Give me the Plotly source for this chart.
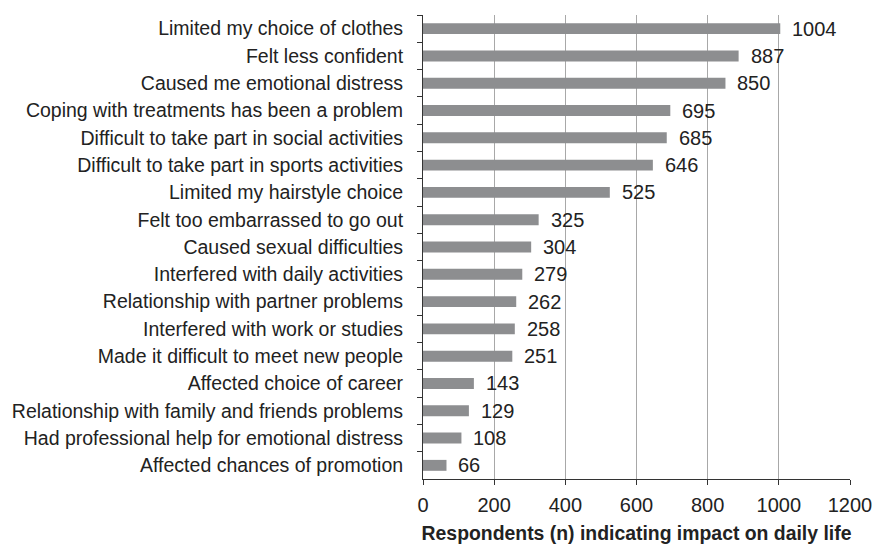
import plotly.graph_objects as go

categories = [
    "Limited my choice of clothes",
    "Felt less confident",
    "Caused me emotional distress",
    "Coping with treatments has been a problem",
    "Difficult to take part in social activities",
    "Difficult to take part in sports activities",
    "Limited my hairstyle choice",
    "Felt too embarrassed to go out",
    "Caused sexual difficulties",
    "Interfered with daily activities",
    "Relationship with partner problems",
    "Interfered with work or studies",
    "Made it difficult to meet new people",
    "Affected choice of career",
    "Relationship with family and friends problems",
    "Had professional help for emotional distress",
    "Affected chances of promotion",
]
values = [1004, 887, 850, 695, 685, 646, 525, 325, 304, 279, 262, 258, 251, 143, 129, 108, 66]
x_ticks = [0, 200, 400, 600, 800, 1000, 1200]
x_title = "Respondents (n) indicating impact on daily life"

fig = go.Figure()
fig.add_trace(go.Bar(
    x=values, y=categories, orientation="h",
    marker=dict(color="#8d8e90", line=dict(width=0)),
    hoverinfo="x+y",
))

for c, v in zip(categories, values):
    fig.add_annotation(x=v, y=c, text=str(v), xanchor="left", yanchor="middle",
                       xshift=10, showarrow=False,
                       font=dict(family="Liberation Sans, Arial", size=20, color="#222"))

fig.update_layout(
    width=874, height=544,
    margin=dict(l=423, r=24, t=15, b=65),
    plot_bgcolor="white", paper_bgcolor="white",
    bargap=0.6,
    showlegend=False,
    font=dict(family="Liberation Sans, Arial", size=19, color="#222"),
)
fig.update_xaxes(
    range=[0, 1200], tickvals=x_ticks, ticktext=[str(t) for t in x_ticks],
    showgrid=True, gridcolor="#a8a8a8", gridwidth=1,
    showline=True, linecolor="#333", linewidth=1,
    ticks="outside", ticklen=5, tickcolor="#333",
    tickfont=dict(size=20), ticklabelstandoff=3,
    zeroline=False, automargin=False,
    title=dict(text="<b>" + x_title + "</b>", font=dict(size=19.4), standoff=15),
)
fig.update_yaxes(
    autorange="reversed",
    showline=True, linecolor="#333", linewidth=1,
    ticks="outside", ticklen=5, tickcolor="#333", tickson="boundaries",
    tickfont=dict(size=19.5),
    ticklabelstandoff=15, automargin=False,
    showgrid=False,
)

fig.write_html("out.html", config={"displayModeBar": False},
               post_script="document.body.style.margin='0';document.body.style.overflow='hidden';")
